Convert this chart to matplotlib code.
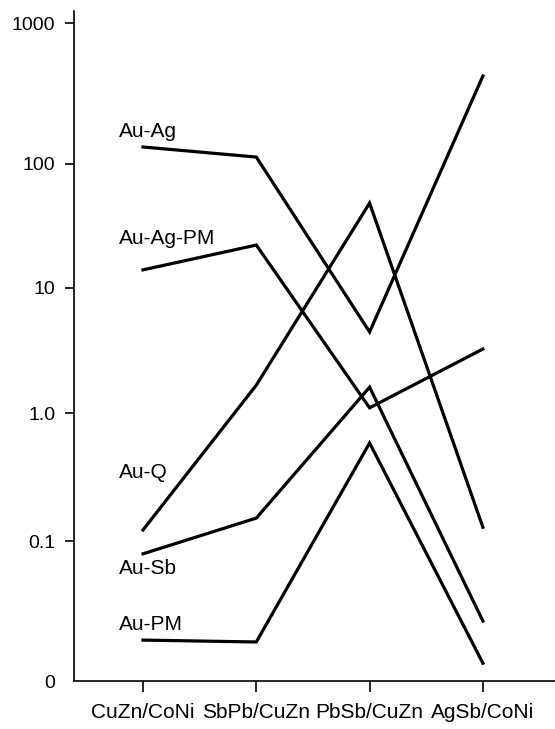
import numpy as np
import matplotlib.pyplot as plt
from matplotlib.scale import FuncScale

plt.rcParams['font.family'] = ['Liberation Sans', 'DejaVu Sans']

# ratio categories on the x axis
categories = ['CuZn/CoNi', 'SbPb/CuZn', 'PbSb/CuZn', 'AgSb/CoNi']

# series values
au_ag = [132, 112, 4.45, 421]
au_ag_pm = [14.0, 22.2, 1.10, 3.25]
au_q = [0.122, 1.67, 48.4, 0.128]
au_sb = [0.081, 0.151, 1.61, 0.0268]
au_pm = [0.0196, 0.019, 0.583, 0.0134]

series = [('Au-Ag', au_ag), ('Au-Ag-PM', au_ag_pm), ('Au-Q', au_q),
          ('Au-Sb', au_sb), ('Au-PM', au_pm)]

ytick_vals = [0.01, 0.1, 1, 10, 100, 1000]
ytick_labels = ['0', '0.1', '1.0', '10', '100', '1000']

# the original axis is hand drawn: decades are not evenly spaced
dec_log = np.array([-2, -1, 0, 1, 2, 3, 3.2])
dec_pos = np.array([0, 140, 268, 393, 517, 658, 686.2])


def fwd(v):
    with np.errstate(divide='ignore', invalid='ignore'):
        lv = np.log10(np.asarray(v, dtype=float))
    return np.interp(lv, dec_log, dec_pos)


def inv(p):
    return 10 ** np.interp(np.asarray(p, dtype=float), dec_pos, dec_log)


fig = plt.figure(figsize=(5.55, 7.29), dpi=100)
ax = fig.add_axes([74 / 555, 48 / 729, 1 - 74 / 555, 670 / 729])
ax.set_yscale(FuncScale(ax.yaxis, (fwd, inv)))

x = np.arange(len(categories))
for name, vals in series:
    ax.plot(x, vals, color='black', lw=2.3, solid_joinstyle='miter')

# series labels
label_pos = {'Au-Ag': 171, 'Au-Ag-PM': 25.3, 'Au-Q': 0.34,
             'Au-Sb': 0.064, 'Au-PM': 0.0255}
for name, _ in series:
    ax.text(-0.212, label_pos[name], name, fontsize=15, va='center', ha='left')

ax.set_xlim((74 - 143) / 113.3, (555 - 143) / 113.3)
ax.set_ylim(0.01, inv(670))
ax.set_xticks(x)
ax.set_xticklabels(categories, fontsize=15)
ax.set_yticks(ytick_vals)
ax.set_yticklabels(ytick_labels, fontsize=14)
ax.minorticks_off()
ax.yaxis.get_major_ticks()[0].tick1line.set_visible(False)

ax.spines['top'].set_visible(False)
ax.spines['right'].set_visible(False)
for s in ['left', 'bottom']:
    ax.spines[s].set_linewidth(1.2)
ax.tick_params(axis='y', length=6.5, width=1.2, pad=7)
ax.tick_params(axis='x', length=8, width=1.2, pad=8)

fig.savefig('out.png', dpi=100)
